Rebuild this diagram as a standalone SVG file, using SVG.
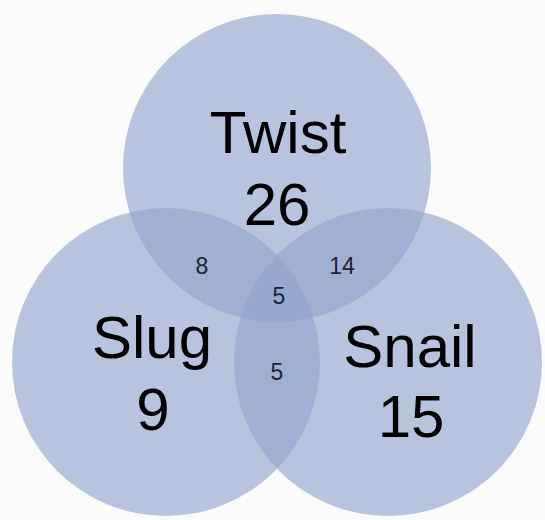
<svg xmlns="http://www.w3.org/2000/svg" width="545" height="520" viewBox="0 0 545 520">
<style>
.c{fill:#92a5cd;fill-opacity:0.64}
.big{font-family:"Liberation Sans",Arial,sans-serif;font-size:60px;fill:#000;text-anchor:middle}
.small{font-family:"Liberation Sans",Arial,sans-serif;font-size:23px;fill:#1e2430;text-anchor:middle}
</style>
<rect width="545" height="520" fill="#fbfbfc"/>
<g id="twist"><circle class="c" cx="277" cy="168" r="154"/></g>
<g id="slug"><circle class="c" cx="166" cy="362" r="154"/></g>
<g id="snail"><circle class="c" cx="388" cy="362" r="154"/></g>
<g id="labels">
<text class="big" x="278" y="153">Twist</text>
<text class="big" x="277" y="225">26</text>
<text class="big" x="152" y="358">Slug</text>
<text class="big" x="153" y="430">9</text>
<text class="big" x="410" y="367">Snail</text>
<text class="big" x="411" y="437">15</text>
<text class="small" x="202" y="274">8</text>
<text class="small" x="342" y="274">14</text>
<text class="small" x="279" y="304">5</text>
<text class="small" x="277" y="380">5</text>
</g>
</svg>
